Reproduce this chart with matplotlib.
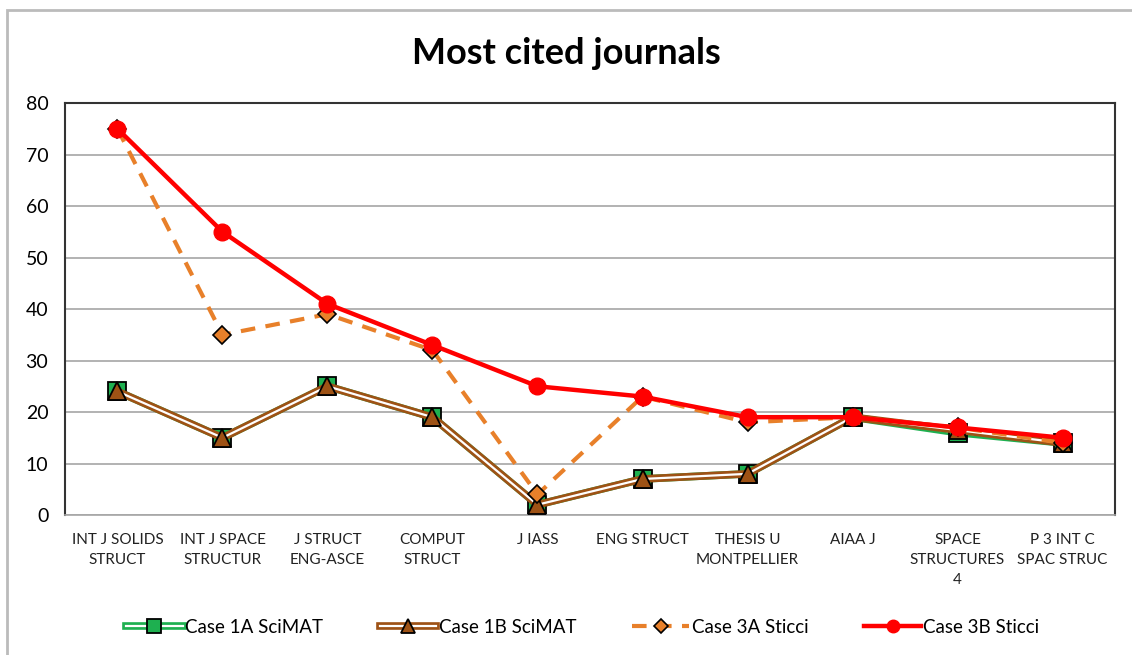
import numpy as np
import matplotlib
matplotlib.use("Agg")
import matplotlib.pyplot as plt
import matplotlib.patheffects as pe
from matplotlib.legend_handler import HandlerTuple
from matplotlib.patches import Rectangle

plt.rcParams['font.family'] = ['Lato', 'DejaVu Sans']

# data
journals = ["INT J SOLIDS\nSTRUCT", "INT J SPACE\nSTRUCTUR", "J STRUCT\nENG-ASCE", "COMPUT\nSTRUCT",
            "J IASS", "ENG STRUCT", "THESIS U\nMONTPELLIER", "AIAA J", "SPACE\nSTRUCTURES\n4",
            "P 3 INT C\nSPAC STRUC"]
case_1a = [24, 15, 25, 19, 2, 7, 8, 19, 16, 14]
case_1b = [24, 15, 25, 19, 2, 7, 8, 19, 16.5, 14]
case_3a = [75, 35, 39, 32, 4, 23, 18, 19, 17, 14]
case_3b = [75, 55, 41, 33, 25, 23, 19, 19, 17, 15]

green = "#1EB050"
brown = "#9E5215"
orange = "#E8802A"
red = "#FF0000"

fig = plt.figure(figsize=(11.32, 6.55), dpi=100)
ax = fig.add_axes([0.0574, 0.2137, 0.9276, 0.629])
x = np.arange(len(journals))

def double_line(y, col, mk, z):
    ln, = ax.plot(x, y, color="white", lw=1.6, zorder=z,
                  path_effects=[pe.Stroke(linewidth=5.5, foreground=col), pe.Normal()])
    mks, = ax.plot(x, y, ls="none", marker=mk, ms=13, mfc=col, mec="black", mew=1.3, zorder=z + 0.1)
    return (ln, mks)

h1 = double_line(case_1a, green, "s", 2)
h2 = double_line(case_1b, brown, "^", 3)
h3, = ax.plot(x, case_3a, color=orange, lw=3, dashes=(3.5, 2.5), marker="D", ms=9,
              mfc=orange, mec="black", mew=1.2, zorder=4)
h4, = ax.plot(x, case_3b, color=red, lw=3.2, marker="o", ms=12, mfc=red, mec=red, zorder=5)

ax.set_xlim(-0.5, len(journals) - 0.5)
ax.set_ylim(0, 80)
ax.set_yticks(range(0, 81, 10))
ax.set_xticks(x)
ax.set_xticklabels(journals, fontsize=11, color="#222222", linespacing=1.55)
ax.tick_params(axis="y", labelsize=14, length=0, pad=12)
ax.tick_params(axis="x", length=0, pad=13)
ax.yaxis.grid(True, color="#A6A6A6", lw=1.2)
ax.set_axisbelow(True)
for s in ["left", "right", "top"]:
    ax.spines[s].set_color("#333333")
    ax.spines[s].set_linewidth(1.5)
ax.spines["bottom"].set_color("#A6A6A6")
ax.spines["bottom"].set_linewidth(1.2)

fig.text(0.5, 0.918, "Most cited journals", ha="center", va="center", fontsize=26, fontweight="bold")

fig.legend([h1, h2, h3, h4], ["Case 1A SciMAT", "Case 1B SciMAT", "Case 3A Sticci", "Case 3B Sticci"],
           handler_map={tuple: HandlerTuple(ndivide=1)}, loc="center", bbox_to_anchor=(0.515, 0.042),
           ncol=4, frameon=False, fontsize=13.5, handlelength=3.0, handletextpad=0.15,
           columnspacing=3.0, markerscale=0.75)

# outer chart frame
fig.patches.append(Rectangle((0.0062, -0.1), 1.2, 1.0847, transform=fig.transFigure,
                             fill=False, ec="#BBBBBB", lw=2))

fig.savefig("out.png", dpi=100)
